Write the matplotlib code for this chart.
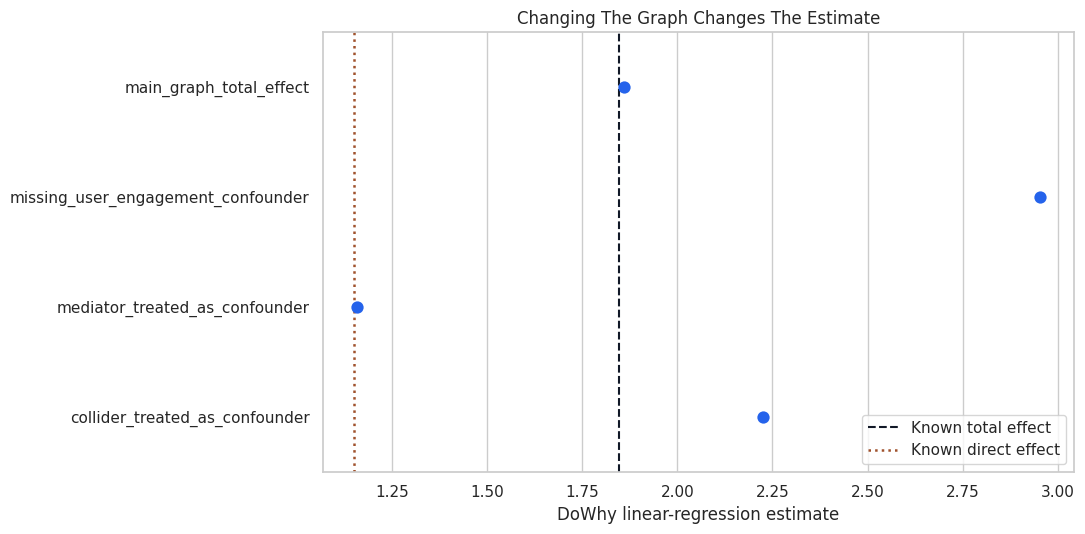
import matplotlib
matplotlib.use("Agg")
import matplotlib.pyplot as plt
import seaborn as sns
import numpy as np

scenarios = ["main_graph_total_effect", "missing_user_engagement_confounder",
             "mediator_treated_as_confounder", "collider_treated_as_confounder"]
estimates = [1.859, 2.953, 1.158, 2.225]
known_total = 1.846
known_direct = 1.150

sns.set_theme(style="whitegrid")
plt.rcParams['font.family'] = ['DejaVu Sans']

fig = plt.figure(figsize=(10.85, 5.34), dpi=100)
ax = fig.add_axes([0.2975, 0.1161, 0.9899 - 0.2975, 0.9401 - 0.1161])

ypos = np.arange(len(scenarios))
ax.scatter(estimates, ypos, s=78, color="#2563eb", zorder=3, linewidths=0)
ax.axvline(known_total, color="#111827", linestyle="--", linewidth=1.5, label="Known total effect")
ax.axvline(known_direct, color="#a0522d", linestyle=":", linewidth=1.8, label="Known direct effect")

ax.set_yticks(ypos)
ax.set_yticklabels(scenarios)
ax.set_ylim(3.5, -0.5)
ax.grid(False, axis="y")
ax.grid(True, axis="x")
ax.set_xlim(1.069, 3.042)
ax.set_xticks([1.25, 1.5, 1.75, 2.0, 2.25, 2.5, 2.75, 3.0])
ax.set_xlabel("DoWhy linear-regression estimate")
ax.set_ylabel("")
ax.set_title("Changing The Graph Changes The Estimate")
ax.legend(loc="lower right")

fig.savefig("out.png", dpi=100)
